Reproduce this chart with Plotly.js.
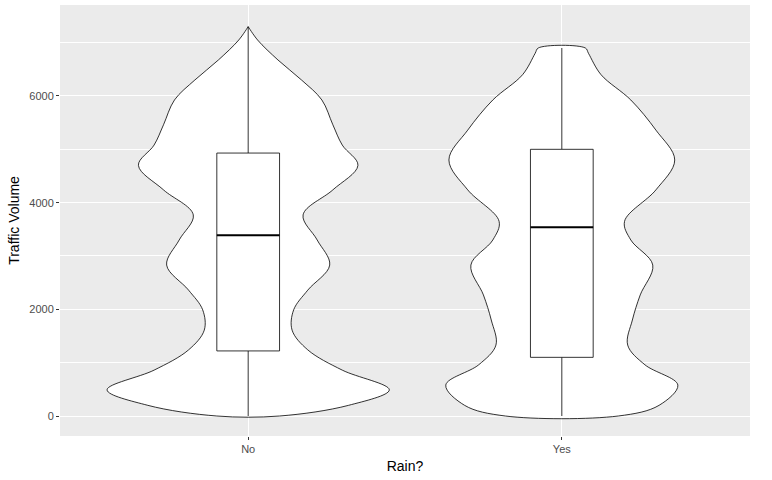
<!DOCTYPE html>
<html>
<head>
<script src="https://cdn.plot.ly/plotly-3.0.1.min.js"></script>
<style>body{margin:0}</style>
</head>
<body>
<div id="chart" style="width:772px;height:480px"></div>
<script>
// Violin outlines: value levels and half widths (category units)
const noLevels = [0, 200, 490, 860, 1240, 1610, 1990, 2360, 2830, 3300, 3770, 4240, 4700, 5080, 5460, 5925, 6300, 6675, 7050, 7300];
const noHalf = [0.10, 0.32, 0.45, 0.30, 0.19, 0.14, 0.145, 0.19, 0.26, 0.22, 0.175, 0.27, 0.35, 0.30, 0.27, 0.235, 0.17, 0.095, 0.03, 0.0];
const yesLevels = [0, 200, 580, 960, 1330, 1800, 2270, 2830, 3300, 3650, 4240, 4800, 5360, 5925, 6400, 6800, 6900];
const yesHalf = [0.18, 0.31, 0.37, 0.265, 0.21, 0.225, 0.25, 0.29, 0.22, 0.20, 0.30, 0.36, 0.30, 0.22, 0.125, 0.085, 0.075];

const categories = ['No', 'Yes'];
const q1 = [1220, 1100];
const median = [3390, 3540];
const q3 = [4930, 5000];
const lowerFence = [0, 0];
const upperFence = [7300, 6900];
const boxHalf = 0.1;

function outline(center, levels, half) {
  const x = [], y = [];
  levels.forEach((v, i) => { x.push(center + half[i]); y.push(v); });
  for (let i = levels.length - 1; i >= 0; i--) { x.push(center - half[i]); y.push(levels[i]); }
  x.push(x[0]); y.push(y[0]);
  return {x, y, type: 'scatter', mode: 'lines', fill: 'toself', fillcolor: 'white',
    line: {color: 'black', width: 0.8, shape: 'spline', smoothing: 1}, hoverinfo: 'skip', showlegend: false};
}

const traces = [outline(1, noLevels, noHalf), outline(2, yesLevels, yesHalf)];

categories.forEach((c, i) => {
  const cx = i + 1, l = cx - boxHalf, r = cx + boxHalf;
  // whiskers
  traces.push({x: [cx, cx, null, cx, cx], y: [lowerFence[i], q1[i], null, q3[i], upperFence[i]],
    type: 'scatter', mode: 'lines', line: {color: 'black', width: 0.8}, hoverinfo: 'skip', showlegend: false});
  // box
  traces.push({x: [l, r, r, l, l], y: [q1[i], q1[i], q3[i], q3[i], q1[i]], type: 'scatter', mode: 'lines',
    fill: 'toself', fillcolor: 'white', line: {color: 'black', width: 0.8}, hoverinfo: 'skip', showlegend: false});
  // median
  traces.push({x: [l, r], y: [median[i], median[i]], type: 'scatter', mode: 'lines',
    line: {color: 'black', width: 2}, hoverinfo: 'skip', showlegend: false});
});

const layout = {
  width: 772, height: 480,
  margin: {l: 60, r: 22, t: 5, b: 44},
  paper_bgcolor: 'white', plot_bgcolor: '#EBEBEB',
  font: {family: 'Liberation Sans, Arial, sans-serif', color: '#4D4D4D', size: 11},
  xaxis: {
    range: [0.4, 2.6], tickvals: [1, 2], ticktext: categories,
    showgrid: true, gridcolor: 'white', gridwidth: 1.2, zeroline: false,
    ticks: 'outside', ticklen: 3, tickcolor: '#333',
    title: {text: 'Rain?', font: {size: 14, color: 'black'}, standoff: 6}
  },
  yaxis: {
    range: [-375, 7706], tickvals: [0, 2000, 4000, 6000],
    showgrid: true, gridcolor: 'white', gridwidth: 1.2, zeroline: false,
    minor: {tickvals: [1000, 3000, 5000, 7000], showgrid: true, gridcolor: 'white', gridwidth: 0.5, ticks: ''},
    ticks: 'outside', ticklen: 3, tickcolor: '#333',
    title: {text: 'Traffic Volume', font: {size: 14, color: 'black'}, standoff: 6}
  }
};

Plotly.newPlot('chart', traces, layout, {displayModeBar: false});
</script>
</body>
</html>
